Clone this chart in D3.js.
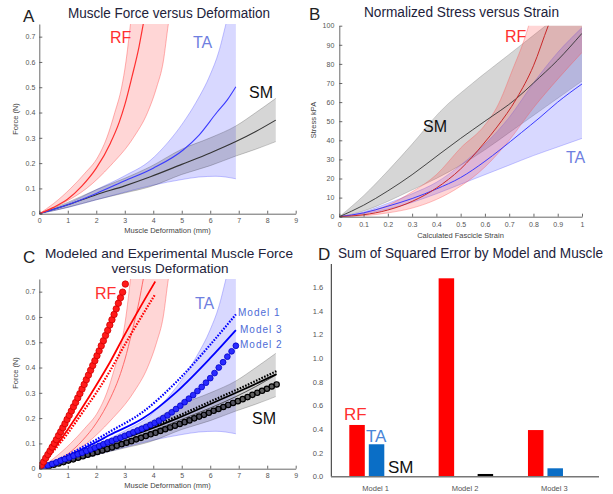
<!DOCTYPE html>
<html>
<head>
<meta charset="utf-8">
<script src="https://cdn.jsdelivr.net/npm/d3@7"></script>
<style>
body { margin: 0; background: #fff; }
svg { display: block; font-family: "Liberation Sans", Arial, sans-serif; }
.axis text { fill: #555; font-size: 7px; font-family: "Liberation Sans", Arial, sans-serif; }
.axis path, .axis line { stroke: #444; stroke-width: 0.8; }
</style>
</head>
<body>
<svg id="fig" width="613" height="494"></svg>
<script>
// ---- tick labels
const ticksDef = [0, 1, 2, 3, 4, 5, 6, 7, 8, 9]
const ticksForce = [0, 0.1, 0.2, 0.3, 0.4, 0.5, 0.6, 0.7]
const ticksStrain = [0, 0.1, 0.2, 0.3, 0.4, 0.5, 0.6, 0.7, 0.8, 0.9, 1]
const ticksStress = [0, 10, 20, 30, 40, 50, 60, 70, 80, 90, 100]
const ticksSSE = [0, 0.2, 0.4, 0.6, 0.8, 1.0, 1.2, 1.4, 1.6]

// ---- A: force vs deformation (mm, N), mean and band edges
const rfMeanA = [[0,0],[0.5,0.025],[1,0.058],[1.5,0.11],[2,0.18],[2.5,0.28],[2.8,0.36],[3,0.43],[3.25,0.54],[3.5,0.66],[3.65,0.75],[3.75,0.81]]
const rfUpA = [[0,0],[0.5,0.04],[1.1,0.1],[1.6,0.16],[2.06,0.225],[2.37,0.3],[2.65,0.4],[2.89,0.5],[3.04,0.6],[3.15,0.7],[3.25,0.8]]
const rfLoA = [[0,0],[0.8,0.04],[1.66,0.1],[2.5,0.19],[3.3,0.3],[3.8,0.4],[4.12,0.5],[4.35,0.6],[4.53,0.75],[4.6,0.8]]
const taMeanA = [[0,0],[1,0.035],[2,0.08],[3,0.13],[4,0.18],[5.05,0.252],[5.6,0.31],[6.23,0.4],[6.6,0.45],[6.9,0.502]]
const taUpA = [[0,0],[1,0.04],[2,0.095],[3,0.15],[3.89,0.21],[4.5,0.28],[5.05,0.36],[5.5,0.44],[6,0.55],[6.3,0.64],[6.55,0.75],[6.7,0.82],[6.9,0.95]]
const taLoA = [[0,0],[1,0.025],[2,0.055],[3,0.085],[4,0.113],[5,0.135],[5.6,0.145],[6.2,0.148],[6.9,0.138]]
const smMeanA = [[0,0],[1,0.035],[2,0.075],[3,0.11],[3.9,0.146],[5,0.195],[6,0.24],[6.9,0.285],[7.6,0.325],[8.3,0.37]]
const smUpA = [[0,0],[1,0.045],[2,0.095],[3,0.14],[3.9,0.186],[5,0.255],[6,0.3],[6.9,0.347],[7.6,0.4],[8.3,0.456]]
const smLoA = [[0,0],[1,0.025],[2,0.055],[3,0.082],[3.9,0.107],[5,0.155],[6,0.19],[6.9,0.228],[7.6,0.255],[8.3,0.285]]

// ---- B: stress (kPa) vs strain
const smMeanB = [[0,0],[0.1,6],[0.2,13.5],[0.3,22],[0.415,33],[0.5,41],[0.6,50],[0.731,62],[0.8,70],[0.9,82],[1,96]]
const smUpB = [[0,0],[0.1,11],[0.2,24],[0.3,38],[0.415,55],[0.55,70],[0.69,84],[0.83,98],[0.86,101],[1,115]]
const smLoB = [[0,0],[0.1,3],[0.2,8],[0.3,14],[0.4,20],[0.5,27],[0.6,35],[0.7,44],[0.8,53],[0.9,62],[1,71]]
const rfMeanB = [[0,0],[0.1,1],[0.2,3.5],[0.3,8],[0.4,15],[0.5,25],[0.593,38],[0.65,47],[0.731,62],[0.8,79],[0.861,100],[0.9,112]]
const rfUpB = [[0,0],[0.1,2],[0.2,6],[0.3,13],[0.4,22],[0.5,36],[0.6,48],[0.648,57],[0.717,78],[0.76,92],[0.78,100],[0.8,110],[1,130]]
const rfLoB = [[0,0],[0.1,0.5],[0.2,2],[0.3,4.5],[0.4,9],[0.5,16],[0.6,26],[0.7,40],[0.8,57],[0.9,72],[1,86]]
const taMeanB = [[0,0],[0.1,2],[0.2,5.5],[0.3,9.5],[0.4,14.5],[0.5,20.5],[0.6,29],[0.662,35],[0.75,44],[0.827,52],[0.9,60],[1,69.5]]
const taUpB = [[0,0],[0.1,2.5],[0.2,7],[0.3,12],[0.4,18],[0.5,27],[0.6,38],[0.7,52],[0.8,70],[0.9,86],[1,99]]
const taLoB = [[0,0],[0.1,1.5],[0.2,4],[0.3,7.5],[0.4,12],[0.5,17],[0.6,22],[0.7,27],[0.8,32],[0.9,36.5],[1,41]]

// ---- C: model curves (Model 1 dotted, Model 3 solid, Model 2 circles)
const rfM1C = [[0,0],[0.5,0.07],[1,0.14],[1.5,0.22],[2,0.3],[2.5,0.39],[3,0.49],[3.5,0.585],[4.07,0.69]]
const rfM3C = [[0,0],[0.5,0.075],[1,0.155],[1.5,0.24],[2,0.33],[2.5,0.425],[3,0.53],[3.5,0.63],[4.07,0.74]]
const rfM2C = [[0,0],[0.075,0.014],[0.15,0.027],[0.225,0.042],[0.3,0.056],[0.375,0.07],[0.45,0.085],[0.525,0.1],[0.6,0.115],[0.675,0.131],[0.75,0.146],[0.825,0.162],[0.9,0.178],[0.975,0.195],[1.05,0.211],[1.125,0.228],[1.2,0.245],[1.275,0.262],[1.35,0.28],[1.425,0.297],[1.5,0.315],[1.575,0.333],[1.65,0.352],[1.725,0.37],[1.8,0.389],[1.875,0.408],[1.95,0.427],[2.025,0.447],[2.1,0.466],[2.175,0.486],[2.25,0.506],[2.325,0.527],[2.4,0.547],[2.475,0.568],[2.55,0.589],[2.625,0.61],[2.7,0.632],[2.775,0.654],[2.85,0.676],[2.925,0.698],[3.02,0.73]]
const taM1C = [[0,0],[1,0.055],[2,0.115],[2.47,0.146],[3.64,0.225],[4.82,0.344],[5.99,0.489],[6.9,0.61]]
const taM3C = [[0,0],[1,0.05],[2,0.105],[2.47,0.133],[3.64,0.199],[4.82,0.304],[5.99,0.436],[6.9,0.548]]
const taM2C = [[0,0],[0.15,0.006],[0.3,0.013],[0.45,0.019],[0.6,0.025],[0.75,0.032],[0.9,0.038],[1.05,0.044],[1.2,0.051],[1.35,0.057],[1.5,0.063],[1.65,0.07],[1.8,0.076],[1.95,0.083],[2.1,0.09],[2.25,0.097],[2.4,0.104],[2.55,0.11],[2.7,0.117],[2.85,0.123],[3,0.13],[3.15,0.137],[3.3,0.144],[3.45,0.151],[3.6,0.158],[3.75,0.165],[3.9,0.173],[4.05,0.181],[4.2,0.19],[4.35,0.2],[4.5,0.211],[4.65,0.223],[4.8,0.236],[4.95,0.249],[5.1,0.263],[5.25,0.277],[5.4,0.291],[5.55,0.307],[5.7,0.323],[5.85,0.34],[6,0.358],[6.15,0.378],[6.3,0.4],[6.45,0.421],[6.6,0.443],[6.75,0.464],[6.9,0.486]]
const smM1C = [[0,0],[1,0.043],[2.47,0.107],[3.64,0.153],[4.82,0.206],[5.99,0.265],[7.16,0.324],[8.33,0.386]]
const smM3C = [[0,0],[1,0.04],[2.47,0.1],[3.64,0.146],[4.82,0.198],[5.99,0.255],[7.16,0.313],[8.33,0.374]]
const smM2C = [[0,0],[0.17,0.005],[0.34,0.01],[0.51,0.016],[0.68,0.021],[0.85,0.026],[1.02,0.032],[1.19,0.037],[1.36,0.043],[1.53,0.049],[1.7,0.055],[1.87,0.06],[2.04,0.066],[2.21,0.072],[2.38,0.078],[2.55,0.084],[2.72,0.091],[2.89,0.097],[3.06,0.103],[3.23,0.109],[3.4,0.116],[3.57,0.122],[3.74,0.129],[3.91,0.136],[4.08,0.142],[4.25,0.149],[4.42,0.156],[4.59,0.163],[4.76,0.17],[4.93,0.177],[5.1,0.184],[5.27,0.191],[5.44,0.199],[5.61,0.206],[5.78,0.213],[5.95,0.221],[6.12,0.229],[6.29,0.236],[6.46,0.244],[6.63,0.252],[6.8,0.26],[6.97,0.267],[7.14,0.275],[7.31,0.283],[7.48,0.292],[7.65,0.3],[7.82,0.308],[7.99,0.316],[8.16,0.325],[8.33,0.333]]

// ---- D: sum of squared error
const models = ["Model 1", "Model 2", "Model 3"]
const muscles = ["RF", "TA", "SM"]
const sseRF = [0.437, 1.676, 0.394]
const sseTA = [0.274, 0, 0.071]
const sseSM = [0, 0.023, 0]

const RED = "#ff0000", BLUE = "#0000ff"
const svg = d3.select("#fig")
const defs = svg.append("defs")

function clip(id, x, y) {
  defs.append("clipPath").attr("id", id).append("rect")
    .attr("x", x.range()[0]).attr("y", y.range()[1])
    .attr("width", x.range()[1] - x.range()[0]).attr("height", y.range()[0] - y.range()[1])
}

function lineGen(x, y) {
  return d3.line().x(d => x(d[0])).y(d => y(d[1])).curve(d3.curveMonotoneX)
}

function band(g, x, y, up, lo, fill, edge) {
  const line = lineGen(x, y)
  const p = line(up) + line(lo.slice().reverse()).replace(/^M/, "L") + "Z"
  g.append("path").attr("d", p).attr("fill", fill).attr("stroke", "none")
  g.append("path").attr("d", line(up)).attr("fill", "none").attr("stroke", edge).attr("stroke-width", 0.8)
  g.append("path").attr("d", line(lo)).attr("fill", "none").attr("stroke", edge).attr("stroke-width", 0.8)
}

function curve(g, x, y, pts, color, w, dash) {
  g.append("path").attr("d", lineGen(x, y)(pts))
    .attr("fill", "none").attr("stroke", color).attr("stroke-width", w)
    .attr("stroke-dasharray", dash || null)
}

function dots(g, x, y, pts, r, fill, stroke, sw) {
  g.append("g").selectAll("circle").data(pts).join("circle")
    .attr("cx", d => x(d[0])).attr("cy", d => y(d[1])).attr("r", r)
    .attr("fill", fill).attr("stroke", stroke).attr("stroke-width", sw)
}

function axes(x, y, xt, yt, xfmt, yfmt, pad) {
  svg.append("g").attr("class", "axis")
    .attr("transform", `translate(0,${y.range()[0]})`)
    .call(d3.axisBottom(x).tickValues(xt).tickFormat(xfmt).tickSizeInner(-3).tickSizeOuter(0).tickPadding(pad[0]))
  svg.append("g").attr("class", "axis")
    .attr("transform", `translate(${x.range()[0]},0)`)
    .call(d3.axisLeft(y).tickValues(yt).tickFormat(yfmt).tickSizeInner(-3).tickSizeOuter(0).tickPadding(pad[1]))
}

function label(x, y, txt, size, color, opts) {
  const t = svg.append("text").attr("x", x).attr("y", y).text(txt)
    .attr("font-size", size).attr("fill", color)
  if (opts && opts.anchor) t.attr("text-anchor", opts.anchor)
  if (opts && opts.len) t.attr("textLength", opts.len).attr("lengthAdjust", "spacingAndGlyphs")
  if (opts && opts.rot) t.attr("transform", `rotate(-90,${x},${y})`)
  if (opts && opts.ls) t.attr("letter-spacing", opts.ls)
  return t
}

const fmt = d3.format("~g")
const TITLE = "#22223a"

// ================= A
const xA = d3.scaleLinear().domain([0, 9]).range([39.3, 295.7])
const yA = d3.scaleLinear().domain([0, 0.75]).range([213.7, 24])
clip("clipA", xA, yA)
const gA = svg.append("g").attr("clip-path", "url(#clipA)")
band(gA, xA, yA, taUpA, taLoA, "rgba(40,40,255,0.18)", "rgba(90,90,255,0.45)")
band(gA, xA, yA, smUpA, smLoA, "rgba(0,0,0,0.16)", "rgba(0,0,0,0.25)")
band(gA, xA, yA, rfUpA, rfLoA, "rgba(255,30,30,0.18)", "rgba(255,80,80,0.55)")
curve(gA, xA, yA, smMeanA, "#333", 1.1)
curve(gA, xA, yA, taMeanA, "#3a3aff", 1.1)
curve(gA, xA, yA, rfMeanA, "#ff3030", 1.2)
axes(xA, yA, ticksDef, ticksForce, fmt, fmt, [4, 4])
label(23, 22, "A", 17, "#222")
label(68, 18, "Muscle Force versus Deformation", 14, TITLE, {len: 202})
label(18, 119, "Force (N)", 7.5, "#444", {anchor: "middle", rot: true})
label(167.5, 233, "Muscle Deformation (mm)", 7.5, "#444", {anchor: "middle"})
label(110, 43, "RF", 16, "#ff3030")
label(193, 48, "TA", 16, "#6f7fe0")
label(249, 98, "SM", 16, "#111")

// ================= B
const xB = d3.scaleLinear().domain([0, 1]).range([339.3, 582])
const yB = d3.scaleLinear().domain([0, 100]).range([216.7, 25.7])
clip("clipB", xB, yB)
const gB = svg.append("g").attr("clip-path", "url(#clipB)")
band(gB, xB, yB, smUpB, smLoB, "rgba(0,0,0,0.16)", "rgba(0,0,0,0.2)")
band(gB, xB, yB, taUpB, taLoB, "rgba(40,40,255,0.18)", "rgba(90,90,255,0.4)")
band(gB, xB, yB, rfUpB, rfLoB, "rgba(255,30,30,0.18)", "rgba(255,80,80,0.45)")
curve(gB, xB, yB, taMeanB, "#3a3aff", 1)
curve(gB, xB, yB, smMeanB, "#333", 0.9)
curve(gB, xB, yB, rfMeanB, "#c82828", 1)
axes(xB, yB, ticksStrain, ticksStress, fmt, fmt, [5, 5])
label(309, 20, "B", 17, "#222")
label(364, 17, "Normalized Stress versus Strain", 14, TITLE, {len: 195})
label(316, 120, "Stress kPA", 7.5, "#444", {anchor: "middle", rot: true})
label(460.5, 238, "Calculated Fascicle Strain", 7.5, "#444", {anchor: "middle"})
label(505, 42, "RF", 16, "#ff3030")
label(423, 132, "SM", 16, "#111")
label(566, 163, "TA", 16, "#6f7fe0")

// ================= C
const xC = d3.scaleLinear().domain([0, 9]).range([39.3, 295.7])
const yC = d3.scaleLinear().domain([0, 0.75]).range([468.7, 279])
clip("clipC", xC, yC)
const gC = svg.append("g").attr("clip-path", "url(#clipC)")
band(gC, xC, yC, taUpA, taLoA, "rgba(40,40,255,0.18)", "rgba(90,90,255,0.45)")
band(gC, xC, yC, smUpA, smLoA, "rgba(0,0,0,0.16)", "rgba(0,0,0,0.25)")
band(gC, xC, yC, rfUpA, rfLoA, "rgba(255,30,30,0.18)", "rgba(255,80,80,0.55)")
curve(gC, xC, yC, smMeanA, "#444", 0.9)
curve(gC, xC, yC, rfMeanA, "#ff6060", 0.9)
curve(gC, xC, yC, smM3C, "#000", 1.8)
curve(gC, xC, yC, smM1C, "#000", 2.2, "1.6,1.4")
curve(gC, xC, yC, taM3C, BLUE, 1.8)
curve(gC, xC, yC, taM1C, BLUE, 2.2, "1.6,1.4")
curve(gC, xC, yC, rfM3C, RED, 1.8)
curve(gC, xC, yC, rfM1C, RED, 2.2, "1.6,1.4")
dots(gC, xC, yC, smM2C, 2.7, "rgba(0,0,0,0.55)", "#000", 1.2)
dots(gC, xC, yC, taM2C, 2.9, "#2a2aff", "#0000c8", 0.8)
dots(gC, xC, yC, rfM2C, 3.2, "#ff1a1a", "#d00000", 0.8)
axes(xC, yC, ticksDef, ticksForce, fmt, fmt, [4, 4])
label(23, 263, "C", 17, "#222")
label(45, 258, "Modeled and Experimental Muscle Force", 13.5, TITLE, {len: 248})
label(170, 273, "versus Deformation", 13.5, TITLE, {anchor: "middle"})
label(18, 373, "Force (N)", 7.5, "#444", {anchor: "middle", rot: true})
label(167.5, 487.5, "Muscle Deformation (mm)", 7.5, "#444", {anchor: "middle"})
label(95, 298.5, "RF", 16, "#ff3030")
label(195, 308.5, "TA", 16, "#6f7fe0")
label(252, 423.5, "SM", 16, "#111")
label(238, 315.5, "Model 1", 10, "#4d6bd6", {ls: 1})
label(240, 333, "Model 3", 10, "#4d6bd6", {ls: 1})
label(240, 348, "Model 2", 10, "#4d6bd6", {ls: 1})

// ================= D
const xD = d3.scaleBand().domain(models).range([331, 599])
const xM = d3.scaleBand().domain(muscles).range([18.3, 72.8]).paddingInner(0.205)
const yD = d3.scaleLinear().domain([0, 1.6]).range([476.7, 287.3])
const barColor = {RF: RED, TA: "#0a6ec6", SM: "#000"}
const bars = []
models.forEach((m, i) => {
  bars.push({model: m, muscle: "RF", v: sseRF[i]})
  bars.push({model: m, muscle: "TA", v: sseTA[i]})
  bars.push({model: m, muscle: "SM", v: sseSM[i]})
})
svg.append("line").attr("x1", 331.3).attr("x2", 331.3).attr("y1", 264).attr("y2", yD(0))
  .attr("stroke", "#111").attr("stroke-width", 0.9)
svg.append("g").selectAll("rect").data(bars.filter(d => d.v > 0)).join("rect")
  .attr("x", d => xD(d.model) + xM(d.muscle))
  .attr("width", xM.bandwidth())
  .attr("y", d => yD(d.v))
  .attr("height", d => yD(0) - yD(d.v))
  .attr("fill", d => barColor[d.muscle])
svg.append("line").attr("x1", 331).attr("x2", 599).attr("y1", yD(0)).attr("y2", yD(0))
  .attr("stroke", "#777").attr("stroke-width", 1.6)
svg.append("g").selectAll("text").data(ticksSSE).join("text")
  .attr("x", 318).attr("y", d => yD(d)).attr("dy", "0.35em")
  .attr("text-anchor", "middle").attr("font-size", 7.5).attr("fill", "#555")
  .text(d => d3.format(".1f")(d))
svg.append("g").selectAll("text").data(models).join("text")
  .attr("x", d => xD(d) + xD.bandwidth() / 2).attr("y", 491)
  .attr("text-anchor", "middle").attr("font-size", 7.5).attr("fill", "#555")
  .text(d => d)
label(318, 260, "D", 17, "#222")
label(338, 258.3, "Sum of Squared Error by Model and Muscle", 14, TITLE, {len: 265})
label(344, 420, "RF", 17, "#ff3030")
label(366, 442, "TA", 17, "#4a86d8")
label(388, 472.5, "SM", 17, "#111")
</script>
</body>
</html>
